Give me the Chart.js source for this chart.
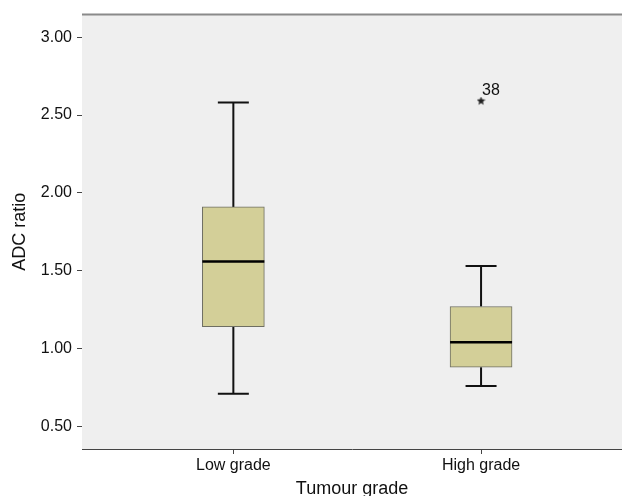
<!DOCTYPE html>
<html>
<head>
<meta charset="utf-8">
<script src="https://cdn.jsdelivr.net/npm/chart.js@4.4.0/dist/chart.umd.min.js"></script>
<style>
  html, body { margin: 0; padding: 0; background: #fff; overflow: hidden; }
  canvas { display: block; }
</style>
</head>
<body>
<canvas id="chart" width="622" height="496"></canvas>
<script>
// Box plot summary per tumour grade
const groups = ['Low grade', 'High grade'];
const whiskerLow = [0.71, 0.76];
const q1 = [1.14, 0.88];
const median = [1.56, 1.04];
const q3 = [1.91, 1.27];
const whiskerHigh = [2.58, 1.53];
// Extreme value marked with a star
const outlierGroup = [1];
const outlierValue = [2.59];
const outlierLabel = ['38'];
const yTicks = [0.5, 1.0, 1.5, 2.0, 2.5, 3.0];

const FONT = '"Liberation Sans", Arial, Helvetica, sans-serif';

// small filled star used as point style
function starImage(size, color) {
  const c = document.createElement('canvas');
  c.width = size; c.height = size;
  const g = c.getContext('2d');
  const cx = size / 2, cy = size / 2, ro = size / 2, ri = ro * 0.45;
  g.beginPath();
  for (let i = 0; i < 10; i++) {
    const r = i % 2 ? ri : ro;
    const a = -Math.PI / 2 + i * Math.PI / 5;
    g.lineTo(cx + r * Math.cos(a), cy + r * Math.sin(a));
  }
  g.closePath();
  g.fillStyle = color;
  g.fill();
  return c;
}

// Background, whiskers, medians and outlier labels
const boxExtras = {
  id: 'boxExtras',
  beforeDatasetsDraw(chart) {
    const { ctx, chartArea: a, scales: { x, y } } = chart;
    ctx.save();
    ctx.fillStyle = '#efefef';
    ctx.fillRect(a.left, a.top, a.right - a.left, a.bottom - a.top);
    ctx.strokeStyle = '#8a8a8a';
    ctx.lineWidth = 2;
    ctx.beginPath();
    ctx.moveTo(a.left, a.top);
    ctx.lineTo(a.right, a.top);
    ctx.stroke();

    ctx.strokeStyle = '#111';
    ctx.lineWidth = 2;
    groups.forEach((g, i) => {
      const px = x.getPixelForValue(i);
      const cap = 15.5;
      ctx.beginPath();
      ctx.moveTo(px, y.getPixelForValue(whiskerHigh[i]));
      ctx.lineTo(px, y.getPixelForValue(q3[i]));
      ctx.moveTo(px, y.getPixelForValue(q1[i]));
      ctx.lineTo(px, y.getPixelForValue(whiskerLow[i]));
      ctx.moveTo(px - cap, y.getPixelForValue(whiskerHigh[i]));
      ctx.lineTo(px + cap, y.getPixelForValue(whiskerHigh[i]));
      ctx.moveTo(px - cap, y.getPixelForValue(whiskerLow[i]));
      ctx.lineTo(px + cap, y.getPixelForValue(whiskerLow[i]));
      ctx.stroke();
    });
    ctx.restore();
  },
  afterDatasetsDraw(chart) {
    const { ctx, scales: { x, y } } = chart;
    ctx.save();
    ctx.strokeStyle = '#000';
    ctx.lineWidth = 2.5;
    groups.forEach((g, i) => {
      const px = x.getPixelForValue(i);
      const py = y.getPixelForValue(median[i]);
      ctx.beginPath();
      ctx.moveTo(px - 31, py);
      ctx.lineTo(px + 31, py);
      ctx.stroke();
    });
    ctx.fillStyle = '#111';
    ctx.font = '16px ' + FONT;
    ctx.textAlign = 'left';
    ctx.textBaseline = 'alphabetic';
    outlierLabel.forEach((t, i) => {
      ctx.fillText(t, x.getPixelForValue(outlierGroup[i]) + 1, y.getPixelForValue(outlierValue[i]) - 6);
    });
    ctx.restore();
  }
};

new Chart(document.getElementById('chart'), {
  type: 'bar',
  data: {
    datasets: [
      {
        type: 'scatter',
        data: outlierGroup.map((g, i) => ({ x: g, y: outlierValue[i] })),
        pointStyle: starImage(9, '#222'),
        order: 0
      },
      {
        data: groups.map((g, i) => ({ x: i, y: [q1[i], q3[i]] })),
        backgroundColor: '#d3cf98',
        borderColor: '#6e6e62',
        borderWidth: 1,
        borderSkipped: false,
        barThickness: 62,
        order: 1
      }
    ]
  },
  options: {
    responsive: false,
    animation: false,
    layout: { autoPadding: false, padding: { top: 12, left: 0, right: 0, bottom: 0 } },
    plugins: { legend: { display: false }, tooltip: { enabled: false } },
    scales: {
      x: {
        type: 'linear',
        offset: false,
        min: -0.611,
        max: 1.569,
        afterBuildTicks: s => { s.ticks = groups.map((g, i) => ({ value: i })); },
        afterFit: s => { s.height = 47; s.paddingLeft = 0; s.paddingRight = 0; },
        ticks: {
          callback: v => groups[v],
          color: '#111',
          font: { family: FONT, size: 16 },
          padding: 2,
          maxRotation: 0,
          autoSkip: false
        },
        grid: { offset: false, drawOnChartArea: false, drawTicks: true, tickLength: 5, color: '#444' },
        border: { display: true, color: '#444', width: 1 },
        title: {
          display: true,
          text: 'Tumour grade',
          color: '#111',
          font: { family: FONT, size: 18, lineHeight: 1 },
          padding: { top: 0, bottom: -2 }
        }
      },
      y: {
        min: 0.355,
        max: 3.145,
        afterBuildTicks: s => { s.ticks = yTicks.map(v => ({ value: v })); },
        afterFit: s => { s.width = 82; },
        ticks: {
          callback: v => Number(v).toFixed(2),
          color: '#111',
          font: { family: FONT, size: 16 },
          padding: 5
        },
        grid: { drawOnChartArea: false, drawTicks: true, tickLength: 5, color: '#444' },
        border: { display: true, color: '#444', width: 1 },
        title: {
          display: true,
          text: 'ADC ratio',
          color: '#111',
          font: { family: FONT, size: 18, lineHeight: 1 },
          padding: { top: 11, bottom: 0 }
        }
      }
    }
  },
  plugins: [boxExtras]
});
</script>
</body>
</html>
